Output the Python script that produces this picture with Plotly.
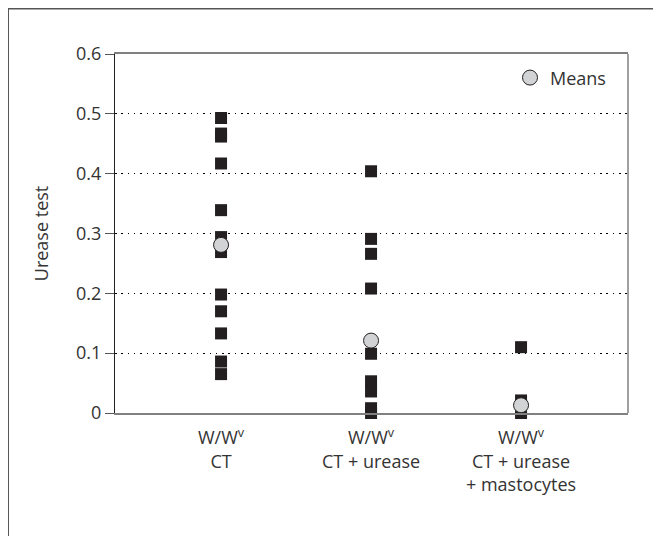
import plotly.graph_objects as go

categories = ["W/W<sup>v</sup><br>CT", "W/W<sup>v</sup><br>CT + urease", "W/W<sup>v</sup><br>CT + urease<br>+ mastocytes"]
cat_pos = [1, 2, 3]

ct_values = [0.493, 0.467, 0.462, 0.417, 0.339, 0.294, 0.269, 0.198, 0.170, 0.133, 0.086, 0.065]
ct_urease_values = [0.404, 0.291, 0.266, 0.208, 0.099, 0.053, 0.036, 0.008, 0.0]
ct_urease_mast_values = [0.110, 0.021, 0.0]
means = [0.281, 0.121, 0.013]

y_ticks = [0, 0.1, 0.2, 0.3, 0.4, 0.5, 0.6]
y_ticklabels = ["0", "0.1", "0.2", "0.3", "0.4", "0.5", "0.6"]

FONT = "Open Sans"
DARK = "#231f20"
TXT = "#333333"

fig = go.Figure()
groups = [ct_values, ct_urease_values, ct_urease_mast_values]
for pos, vals in zip(cat_pos, groups):
    fig.add_trace(go.Scatter(
        x=[pos] * len(vals), y=vals, mode="markers",
        marker=dict(symbol="square", size=12, color=DARK, line=dict(width=0)),
        showlegend=False, cliponaxis=False))

fig.add_trace(go.Scatter(
    x=cat_pos, y=means, mode="markers", name="Means",
    marker=dict(symbol="circle", size=15, color="#d1d3d4", line=dict(color=DARK, width=1)),
    cliponaxis=False))

# page has an 8px body margin; figure is sized/margined to compensate
fig.update_layout(
    width=653, height=528,
    margin=dict(l=107, r=33, t=46, b=123),
    paper_bgcolor="white", plot_bgcolor="white",
    font=dict(family=FONT, size=18, color=TXT),
    legend=dict(x=0.77, y=0.985, xanchor="left", yanchor="top",
                bgcolor="rgba(0,0,0,0)", font=dict(size=18, color=TXT)),
    xaxis=dict(range=[0.293, 3.713], tickvals=cat_pos, ticktext=categories,
               showgrid=False, zeroline=False, showline=True, linecolor="#808080",
               linewidth=1.5, mirror=True, ticks="", ticklabelstandoff=8,
               tickfont=dict(size=18)),
    yaxis=dict(range=[0, 0.6], tickvals=y_ticks, ticktext=y_ticklabels,
               showgrid=True, gridcolor="#000000", griddash="1.5px,4.8px", gridwidth=1,
               zeroline=False, showline=True, linecolor=DARK, linewidth=1,
               ticks="outside", ticklen=9, tickcolor="#555555",
               tickfont=dict(size=18),
               title=dict(text="Urease test", font=dict(size=18), standoff=22)),
)

# right border of plot area
fig.add_shape(type="line", xref="paper", yref="paper", x0=1, x1=1, y0=0, y1=1,
              line=dict(color="#808080", width=1.5))
# outer frame (left and top edges)
fig.add_shape(type="line", xref="paper", yref="paper", x0=-0.2086, x1=-0.2086, y0=-0.5, y1=1.1267,
              line=dict(color="#555555", width=2))
fig.add_shape(type="line", xref="paper", yref="paper", x0=-0.2086, x1=1.2, y0=1.1267, y1=1.1267,
              line=dict(color="#555555", width=2))

fig.write_html("out.html")
